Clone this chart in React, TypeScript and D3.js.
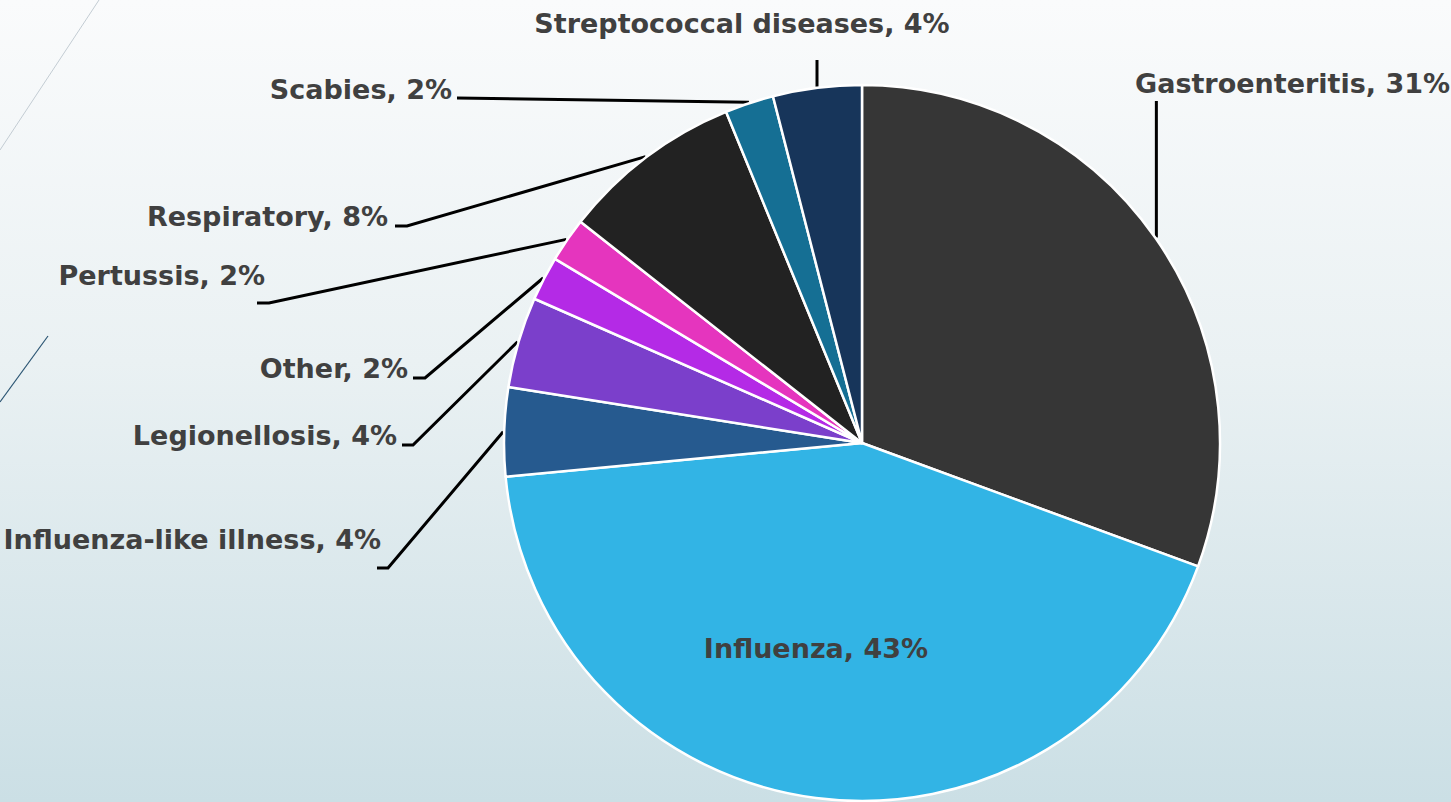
import * as d3 from 'd3';

// slice order is clockwise from 12 o'clock
const categories = [
  'Gastroenteritis',
  'Influenza',
  'Influenza-like illness',
  'Legionellosis',
  'Other',
  'Pertussis',
  'Respiratory',
  'Scabies',
  'Streptococcal diseases',
];
const shares = [30.6, 42.9, 4.0, 4.1, 2.0, 2.0, 8.2, 2.2, 4.0];
const colors = [
  '#363636', '#32b4e5', '#265a8f', '#7b3fcb', '#b42ae6',
  '#e535be', '#222222', '#156f94', '#17355a',
];

const W = 1451;
const H = 802;
const CX = 862;
const CY = 443;
const R = 358;
const FONT = '"DejaVu Sans", Verdana, sans-serif';
const TEXT = '#404040';

// label placement: x/y of text, anchor, and the elbow points of the leader
type Lbl = { x: number; y: number; anchor: string; elbow: number[][] | null; vertical?: number };
const labelLayout: Lbl[] = [
  { x: 1135, y: 93, anchor: 'start', elbow: null, vertical: 101 },
  { x: 816, y: 658, anchor: 'middle', elbow: null },
  { x: 381, y: 549, anchor: 'end', elbow: [[377, 568], [388, 568]] },
  { x: 397, y: 445, anchor: 'end', elbow: [[402, 445], [413, 445]] },
  { x: 408, y: 378, anchor: 'end', elbow: [[413, 378], [425, 378]] },
  { x: 265, y: 285, anchor: 'end', elbow: [[257, 303], [269, 303]] },
  { x: 388, y: 226, anchor: 'end', elbow: [[395, 226], [407, 226]] },
  { x: 452, y: 99, anchor: 'end', elbow: [[457, 98]] },
  { x: 742, y: 33, anchor: 'middle', elbow: null, vertical: 60 },
];

export default function App() {
  const pie = d3.pie<number>().sort(null).value((d) => d);
  const arcs = pie(shares);
  const arc = d3.arc<d3.PieArcDatum<number>>().innerRadius(0).outerRadius(R);
  const line = d3.line();

  return (
    <svg
      width={W}
      height={H}
      style={{ position: 'absolute', left: 0, top: 0, display: 'block' }}
    >
      <defs>
        <linearGradient id="bg" x1="0" y1="0" x2="0" y2="1">
          <stop offset="0" stopColor="#fafbfc" />
          <stop offset="0.45" stopColor="#eaf1f3" />
          <stop offset="1" stopColor="#cbdfe5" />
        </linearGradient>
      </defs>
      <rect width={W} height={H} fill="url(#bg)" />
      {/* theme decoration */}
      <line x1={99} y1={0} x2={0} y2={150} stroke="#c3ccd3" strokeWidth={1} />
      <line x1={48} y1={336} x2={0} y2={402} stroke="#2b5573" strokeWidth={1.2} />

      {/* leader lines */}
      {arcs.map((a, i) => {
        const l = labelLayout[i];
        const mid = (a.startAngle + a.endAngle) / 2;
        const [px, py] = d3.pointRadial(mid, R + 1);
        const edge: [number, number] = [CX + px, CY + py];
        let pts: [number, number][] | null = null;
        if (l.elbow) pts = [...(l.elbow as [number, number][]), edge];
        else if (l.vertical != null) pts = [[edge[0], l.vertical], edge];
        if (!pts) return null;
        return (
          <path
            key={'ld' + i}
            d={line(pts) || ''}
            fill="none"
            stroke="#000"
            strokeWidth={3}
          />
        );
      })}

      <g transform={`translate(${CX},${CY})`}>
        {arcs.map((a, i) => (
          <path key={categories[i]} d={arc(a) || ''} fill={colors[i]} stroke="#fff" strokeWidth={2.5} strokeLinejoin="round" />
        ))}
      </g>

      {arcs.map((a, i) => {
        const l = labelLayout[i];
        return (
          <text
            key={'t' + i}
            x={l.x}
            y={l.y}
            textAnchor={l.anchor}
            fontFamily={FONT}
            fontWeight={700}
            fontSize={27}
            fill={TEXT}
          >
            {`${categories[i]}, ${Math.round(a.data)}%`}
          </text>
        );
      })}
    </svg>
  );
}
